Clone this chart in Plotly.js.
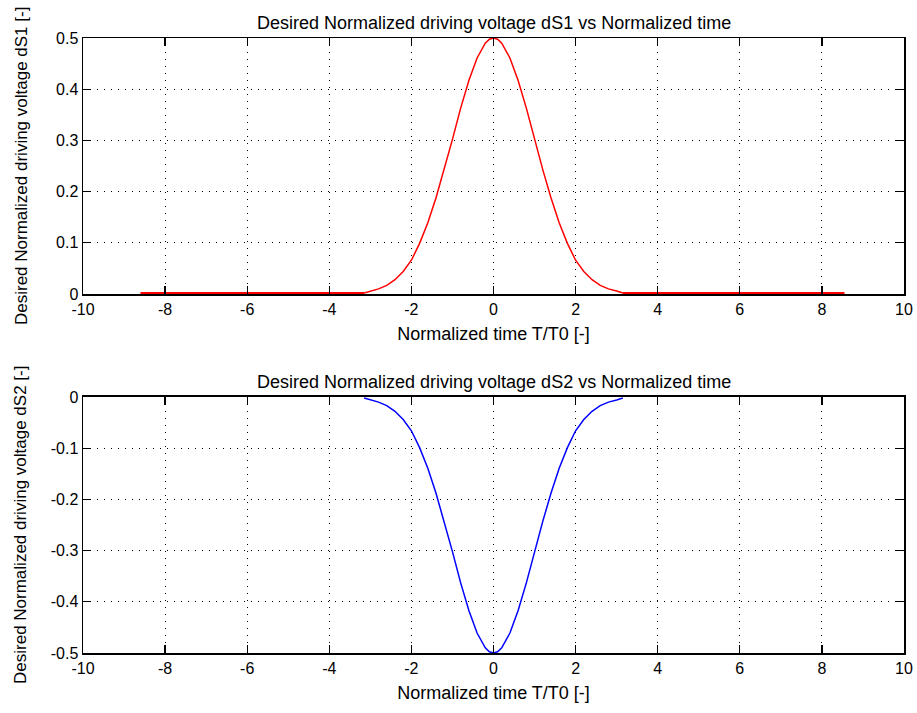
<!DOCTYPE html>
<html>
<head>
<meta charset="utf-8">
<script src="https://cdn.plot.ly/plotly-3.0.1.min.js"></script>
<style>html,body{margin:0;padding:0;background:#fff;}#chart{width:917px;height:713px;}</style>
</head>
<body>
<div id="chart"></div>
<script>
// Normalized time samples of the pulse
var timeT = [-3.15, -3.0, -2.8, -2.6, -2.4, -2.2, -2.0, -1.8, -1.6, -1.4, -1.2, -1.0, -0.8, -0.6, -0.4, -0.2, -0.1, 0,
             0.1, 0.2, 0.4, 0.6, 0.8, 1.0, 1.2, 1.4, 1.6, 1.8, 2.0, 2.2, 2.4, 2.6, 2.8, 3.0, 3.15];
// Desired normalized driving voltage dS1
var dS1 = [0.002, 0.006, 0.010, 0.017, 0.028, 0.044, 0.066, 0.099, 0.139, 0.188, 0.243, 0.302, 0.363, 0.417, 0.461, 0.490, 0.4975, 0.500,
           0.4975, 0.490, 0.461, 0.417, 0.363, 0.302, 0.243, 0.188, 0.139, 0.099, 0.066, 0.044, 0.028, 0.017, 0.010, 0.006, 0.002];
// Desired normalized driving voltage dS2
var dS2 = [-0.002, -0.006, -0.010, -0.017, -0.028, -0.044, -0.066, -0.099, -0.139, -0.188, -0.243, -0.302, -0.363, -0.417, -0.461, -0.490, -0.4975, -0.500,
           -0.4975, -0.490, -0.461, -0.417, -0.363, -0.302, -0.243, -0.188, -0.139, -0.099, -0.066, -0.044, -0.028, -0.017, -0.010, -0.006, -0.002];
// Flat zero segment of dS1 outside the pulse
var flatT = [-8.6, -3.15, null, 3.15, 8.55];
var flatV = [0, 0, null, 0, 0];

// Tick values and labels
var xTickVals = [-10, -8, -6, -4, -2, 0, 2, 4, 6, 8, 10];
var xTickText = ['-10', '-8', '-6', '-4', '-2', '0', '2', '4', '6', '8', '10'];
var y1TickVals = [0, 0.1, 0.2, 0.3, 0.4, 0.5];
var y1TickText = ['0', '0.1', '0.2', '0.3', '0.4', '0.5'];
var y2TickVals = [-0.5, -0.4, -0.3, -0.2, -0.1, 0];
var y2TickText = ['-0.5', '-0.4', '-0.3', '-0.2', '-0.1', '0'];

var titleTop = 'Desired Normalized driving voltage dS1 vs Normalized time';
var titleBottom = 'Desired Normalized driving voltage dS2 vs Normalized time';
var xTitle = 'Normalized time T/T0 [-]';
var y1Title = 'Desired Normalized driving voltage dS1 [-]';
var y2Title = 'Desired Normalized driving voltage dS2 [-]';

var FONT = 'Liberation Sans, Arial, sans-serif';

var traces = [
  {x: flatT, y: flatV, xaxis: 'x', yaxis: 'y', mode: 'lines', line: {color: '#ff0000', width: 4}, hoverinfo: 'skip'},
  {x: timeT, y: dS1, xaxis: 'x', yaxis: 'y', mode: 'lines', line: {color: '#ff0000', width: 1.5}},
  {x: timeT, y: dS2, xaxis: 'x2', yaxis: 'y2', mode: 'lines', line: {color: '#0000ff', width: 1.5}}
];

function xAx(anchor) {
  return {
    anchor: anchor, domain: [0, 1], range: [-10, 10],
    tickmode: 'array', tickvals: xTickVals, ticktext: xTickText,
    ticks: 'inside', ticklen: 8, tickwidth: 1.3, tickcolor: '#000',
    showline: true, linecolor: '#000', linewidth: 1.5, mirror: 'ticks',
    showgrid: true, gridcolor: '#000', gridwidth: 1, griddash: '1px,6px',
    zeroline: false, tickfont: {family: FONT, size: 16, color: '#000'},
    title: {text: xTitle, font: {family: FONT, size: 18, color: '#000'}, standoff: 10}
  };
}
function yAx(anchor, dom, rng, tv, tt) {
  return {
    anchor: anchor, domain: dom, range: rng,
    tickmode: 'array', tickvals: tv, ticktext: tt,
    ticks: 'inside', ticklen: 8, tickwidth: 1.3, tickcolor: '#000',
    showline: true, linecolor: '#000', linewidth: 1.5, mirror: 'ticks',
    showgrid: true, gridcolor: '#000', gridwidth: 1, griddash: '1px,6px',
    zeroline: false, tickfont: {family: FONT, size: 16, color: '#000'}
  };
}

var layout = {
  width: 917, height: 713,
  margin: {l: 83, r: 13, t: 38, b: 60, autoexpand: false},
  paper_bgcolor: '#fff', plot_bgcolor: '#fff',
  showlegend: false,
  xaxis: xAx('y'),
  yaxis: yAx('x', [0.5837, 1], [0, 0.5], y1TickVals, y1TickText),
  xaxis2: xAx('y2'),
  yaxis2: yAx('x2', [0, 0.4163], [-0.5, 0], y2TickVals, y2TickText),
  annotations: [
    {text: titleTop, xref: 'x domain', yref: 'y domain', x: 0.5, y: 1, xanchor: 'center', yanchor: 'bottom', yshift: 3, showarrow: false, font: {family: FONT, size: 18, color: '#000'}},
    {text: titleBottom, xref: 'x2 domain', yref: 'y2 domain', x: 0.5, y: 1, xanchor: 'center', yanchor: 'bottom', yshift: 3, showarrow: false, font: {family: FONT, size: 18, color: '#000'}},
    {text: y1Title, xref: 'paper', yref: 'y domain', x: 0, xshift: -62, y: 0.5, xanchor: 'center', yanchor: 'middle', textangle: -90, showarrow: false, font: {family: FONT, size: 17, color: '#000'}},
    {text: y2Title, xref: 'paper', yref: 'y2 domain', x: 0, xshift: -62, y: 0.5, xanchor: 'center', yanchor: 'middle', textangle: -90, showarrow: false, font: {family: FONT, size: 17, color: '#000'}}
  ]
};

Plotly.newPlot('chart', traces, layout, {displayModeBar: false, staticPlot: true});
</script>
</body>
</html>
